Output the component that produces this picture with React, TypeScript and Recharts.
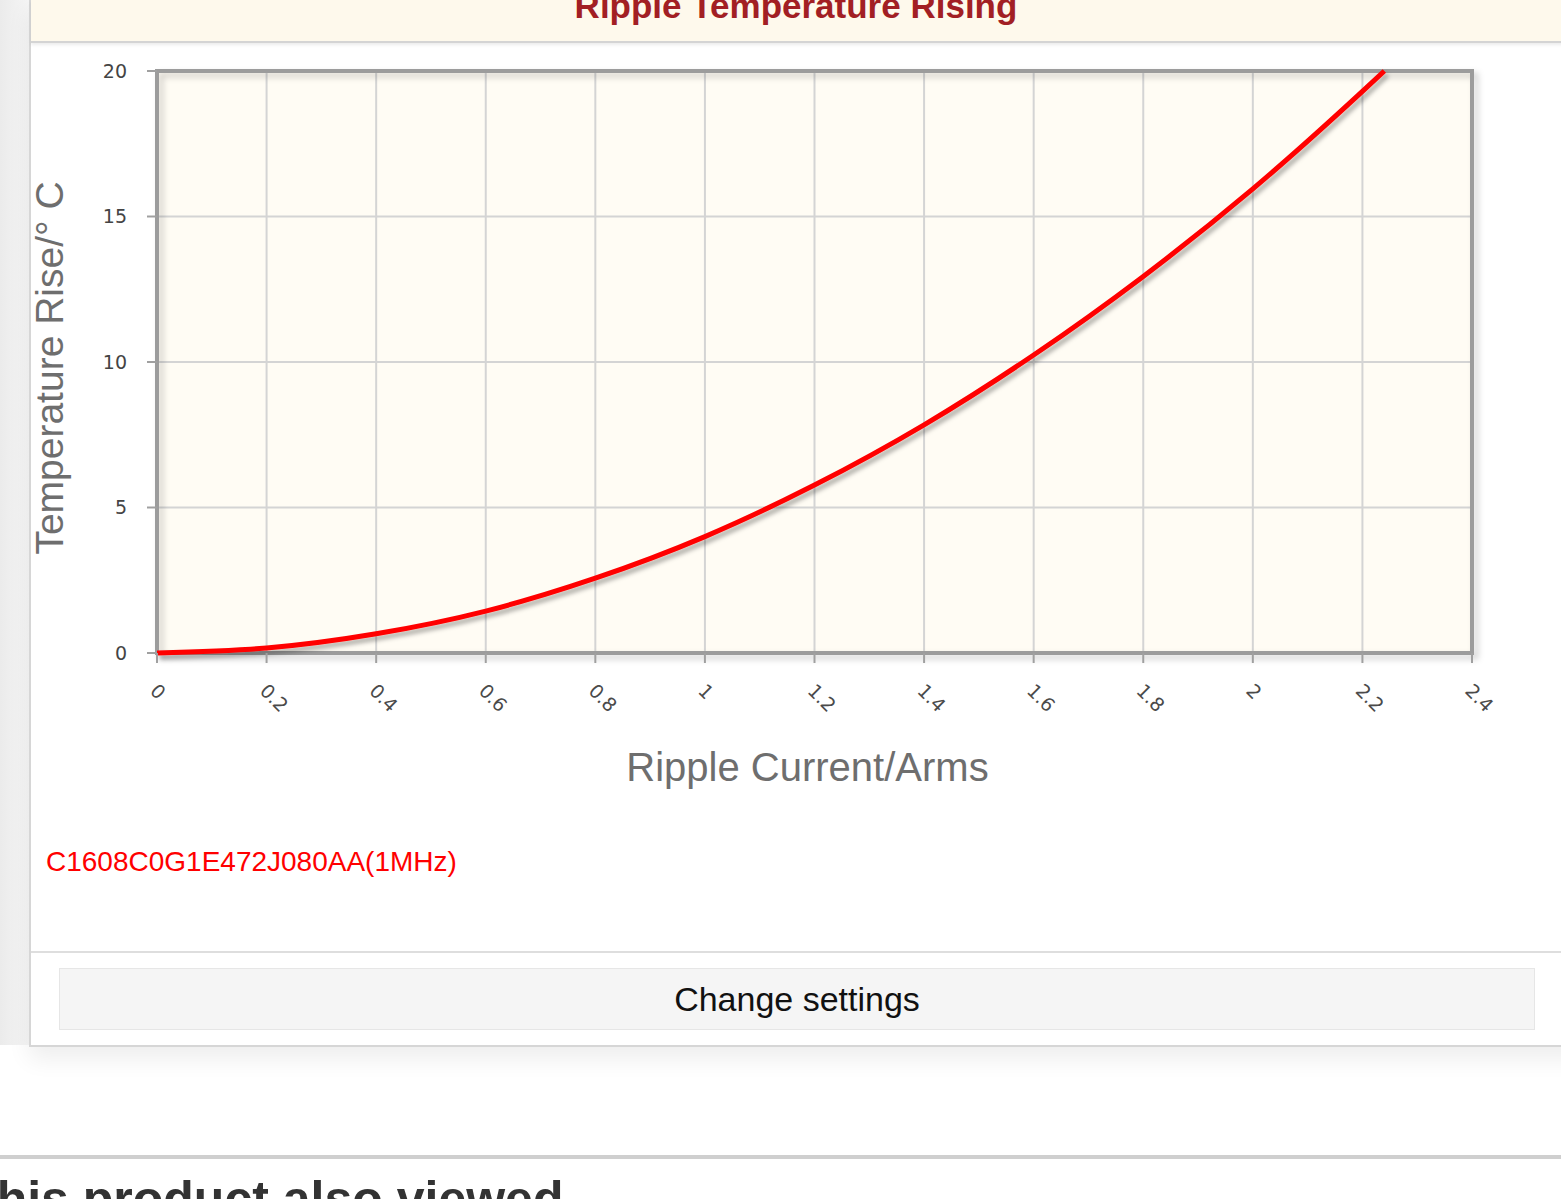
import React from 'react';
import { LineChart, Line, XAxis, YAxis, CartesianGrid, ReferenceArea, Label } from 'recharts';

// ripple current (Arms) vs temperature rise (°C)
const current = [0, 0.2, 0.4, 0.6, 0.8, 1.0, 1.2, 1.4, 1.6, 1.8, 2.0, 2.2, 2.24];
const tempRise = [0, 0.17, 0.66, 1.44, 2.57, 4.0, 5.77, 7.84, 10.24, 12.94, 15.95, 19.3, 20];

const xTicks = [0, 0.2, 0.4, 0.6, 0.8, 1, 1.2, 1.4, 1.6, 1.8, 2, 2.2, 2.4];
const xTickLabels = ['0', '0.2', '0.4', '0.6', '0.8', '1', '1.2', '1.4', '1.6', '1.8', '2', '2.2', '2.4'];
const yTicks = [0, 5, 10, 15, 20];

const title = 'Ripple Temperature Rising';
const seriesName = 'C1608C0G1E472J080AA(1MHz)';
const xTitle = 'Ripple Current/Arms';
const yTitle = 'Temperature Rise/° C';

const data = current.map((c, i) => ({ current: c, rise: tempRise[i] }));

const sans = '"Liberation Sans", Arial, sans-serif';

const XTick = (props: any) => {
  const { x, y, payload } = props;
  const idx = xTicks.indexOf(payload.value);
  return (
    <g transform={`translate(${x - 3},${y + 22}) rotate(45)`}>
      <text x={0} y={0} dominantBaseline="central" fontSize={19} fill="#4a4a4a" fontFamily="DejaVu Sans, sans-serif">
        {idx >= 0 ? xTickLabels[idx] : payload.value}
      </text>
    </g>
  );
};

const YTitle = (props: any) => {
  const vb = props.viewBox || { x: 0, y: 29, width: 157, height: 582 };
  const cx = vb.x + 49;
  const cy = vb.y + vb.height / 2 + 6;
  return (
    <text
      x={cx}
      y={cy}
      transform={`rotate(-90, ${cx}, ${cy})`}
      textAnchor="middle"
      dominantBaseline="central"
      fontSize={39}
      fill="#6e6e6e"
      fontFamily={sans}
    >
      {yTitle}
    </text>
  );
};

const XTitle = (props: any) => {
  const vb = props.viewBox || { x: 157, y: 611, width: 1315, height: 189 };
  return (
    <text
      x={vb.x + vb.width / 2 - 7}
      y={vb.y + 114}
      textAnchor="middle"
      dominantBaseline="central"
      fontSize={40}
      fill="#6e6e6e"
      fontFamily={sans}
    >
      {xTitle}
    </text>
  );
};

export default function App() {
  return (
    <div
      style={{
        position: 'fixed',
        left: 0,
        top: 0,
        width: 1561,
        height: 1199,
        overflow: 'hidden',
        background: '#fff',
        fontFamily: sans,
      }}
    >
      {/* page gutter on the left */}
      <div
        style={{
          position: 'absolute',
          left: 0,
          top: 0,
          width: 30,
          height: 1045,
          background: 'linear-gradient(to right, #ebebeb, #f6f6f6)',
        }}
      />
      {/* panel */}
      <div
        style={{
          position: 'absolute',
          left: 29,
          top: -2,
          width: 1600,
          height: 1045,
          border: '2px solid #d6d6d6',
          background: '#fff',
          boxShadow: '0 12px 22px rgba(0,0,0,0.07)',
        }}
      />
      {/* header band */}
      <div
        style={{
          position: 'absolute',
          left: 31,
          top: 0,
          width: 1600,
          height: 41,
          background: '#fef9ec',
          borderBottom: '2px solid #d4d4d4',
          boxShadow: '0 2px 3px rgba(0,0,0,0.08)',
        }}
      />
      <div
        style={{
          position: 'absolute',
          left: 31,
          width: 1530,
          top: -12,
          textAlign: 'center',
          fontSize: 35,
          lineHeight: '35px',
          fontWeight: 'bold',
          color: '#a21f24',
        }}
      >
        {title}
      </div>

      <div style={{ position: 'absolute', left: 0, top: 42 }}>
        <LineChart width={1561} height={800} data={data} margin={{ top: 29, right: 89, bottom: 0, left: 0 }}>
          <defs>
            <filter id="lineShadow" x="-10%" y="-10%" width="120%" height="130%">
              <feDropShadow dx="3" dy="4" stdDeviation="2" floodColor="#000" floodOpacity="0.3" />
            </filter>
            <filter id="boxShadow" x="-5%" y="-5%" width="115%" height="115%">
              <feDropShadow dx="4" dy="4" stdDeviation="3" floodColor="#000" floodOpacity="0.2" />
            </filter>
          </defs>
          <CartesianGrid fill="#fffcf4" stroke="#d4d4d4" strokeWidth={2} />
          <XAxis
            type="number"
            dataKey="current"
            domain={[0, 2.4]}
            ticks={xTicks}
            interval={0}
            height={189}
            axisLine={false}
            tickLine={{ stroke: '#a0a0a0', strokeWidth: 2 }}
            tickSize={10}
            tick={<XTick />}
          >
            <Label content={<XTitle />} />
          </XAxis>
          <YAxis
            type="number"
            domain={[0, 20]}
            ticks={yTicks}
            interval={0}
            width={157}
            axisLine={false}
            tickLine={{ stroke: '#a0a0a0', strokeWidth: 2 }}
            tickSize={10}
            tickMargin={20}
            tick={{ fontSize: 19, fill: '#444', fontFamily: 'DejaVu Sans, sans-serif' }}
          >
            <Label content={<YTitle />} />
          </YAxis>
          <ReferenceArea
            x1={0}
            x2={2.4}
            y1={0}
            y2={20}
            fill="none"
            fillOpacity={0}
            stroke="#9c9c9c"
            strokeWidth={4}
            filter="url(#boxShadow)"
          />
          <Line
            type="monotone"
            dataKey="rise"
            stroke="#ff0000"
            strokeWidth={5}
            dot={false}
            activeDot={false}
            filter="url(#lineShadow)"
            isAnimationActive={false}
          />
        </LineChart>
      </div>

      {/* series caption */}
      <div
        style={{
          position: 'absolute',
          left: 46,
          top: 848,
          fontSize: 28,
          lineHeight: '28px',
          color: '#ff0000',
          whiteSpace: 'nowrap',
        }}
      >
        {seriesName}
      </div>

      {/* separator above the button */}
      <div style={{ position: 'absolute', left: 31, top: 951, width: 1600, height: 2, background: '#dedede' }} />

      <div
        style={{
          position: 'absolute',
          left: 59,
          top: 968,
          width: 1474,
          height: 60,
          background: '#f5f5f5',
          border: '1px solid #e6e6e6',
          textAlign: 'center',
          lineHeight: '60px',
          fontSize: 34,
          color: '#111',
        }}
      >
        Change settings
      </div>

      {/* next section */}
      <div style={{ position: 'absolute', left: 0, top: 1155, width: 1561, height: 4, background: '#cfcfcf' }} />
      <div
        style={{
          position: 'absolute',
          left: -20,
          top: 1174,
          fontSize: 50,
          lineHeight: '50px',
          fontWeight: 'bold',
          color: '#333',
          whiteSpace: 'nowrap',
        }}
      >
        this product also viewed
      </div>
    </div>
  );
}
